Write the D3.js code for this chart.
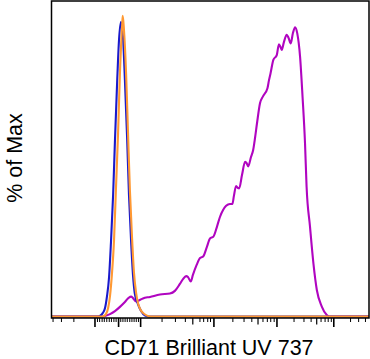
<!DOCTYPE html>
<html><head><meta charset="utf-8">
<script src="https://cdn.jsdelivr.net/npm/d3@7"></script>
<style>html,body{margin:0;padding:0;background:#fff;}svg{display:block;}</style>
</head><body>
<script>
// x in display channels (0-1024), y in % of Max
const blueX = [0,151,161,167,174,180,187,193,200,206,213,219,225,232,238,245,251,258,264,270,280,290,303,316,1024];
const blueY = [0,0,0.5,1.2,2.8,6.5,13.1,24.4,40.3,58.5,77.8,91.7,97.7,92.4,78.4,59.5,40.6,24.7,13.8,7.5,4.1,1.8,0.3,0,0];

const orangeX = [0,161,171,177,184,190,196,203,209,216,222,229,231,235,242,248,254,261,267,274,280,287,296,309,322,1024];
const orangeY = [0,0,0.2,0.8,2.8,6.8,13.8,25.4,42.0,60.9,80.8,96.4,99.7,95.0,80.1,60.9,42.0,26.0,14.8,7.8,4.5,2.5,1.2,0.3,0,0];

const magentaX = [0,158,174,190,206,222,238,251,258,264,274,283,296,319,351,383,399,415,425,435,441,450,457,469,480,490,502,512,523,535,544,555,564,576,584,589,596,602,606,615,625,630,635,644,651,657,664,673,683,697,702,707,716,727,734,739,743,750,759,765,772,779,786,793,802,810,818,823,834,845,856,872,888,898,1024];
const magentaY = [0,0,0.2,0.8,1.8,3.2,4.8,6.3,6.6,6.1,5.0,5.3,6.0,6.5,7.3,7.6,8.5,10.8,12.4,13.4,13.1,11.6,13.8,17.1,19.4,19.9,23.1,25.9,26.5,30.0,33.0,35.5,36.7,37.3,37.3,40.0,43.3,42.6,42.5,46.9,51.3,50.9,49.8,52.9,55.2,59.2,64.6,70.7,73.1,75.7,78.4,80.7,85.1,86.7,90.3,89.4,88.4,91.0,93.4,92.4,90.6,94.0,95.9,93.9,86.2,72.9,57.4,43.1,29.8,17.6,8.8,3.3,0.5,0,0];

// axis ticks (channels)
const majorTicks = [140,216,287,523,726,909];
const mediumTicks = [455,665,854];
const minorTicks = [5,32,72,
  148,155,163,170,178,186,193,201,208,
  223,230,237,244,252,259,266,273,280,
  356,399,431,478,490,503,512,
  584,620,645,681,695,706,717,
  781,813,836,868,881,891,901,
  963,989,1011];

const xLabel = "CD71 Brilliant UV 737";
const yLabel = "% of Max";

const W = 370, H = 359;
const svg = d3.select("body").append("svg").attr("width", W).attr("height", H);

const x = d3.scaleLinear().domain([0,1024]).range([51,369]);
const y = d3.scaleLinear().domain([0,100]).range([316.5,15]);

function tickAxis(vals, size, sw){
  const g = svg.append("g").attr("transform", `translate(0,${318})`)
    .call(d3.axisBottom(x).tickValues(vals).tickSize(size).tickFormat(""));
  g.select(".domain").remove();
  g.selectAll("line").attr("stroke","#000").attr("stroke-width", sw);
}
tickAxis(minorTicks, 4, 1);
tickAxis(mediumTicks, 6.5, 1.2);
tickAxis(majorTicks, 9, 1.6);

const line = d3.line().x(d=>x(d[0])).y(d=>y(d[1])).curve(d3.curveMonotoneX);
function series(xs, ys, color){
  svg.append("path").datum(xs.map((v,i)=>[v, ys[i]]))
    .attr("d", line).attr("fill","none").attr("stroke", color)
    .attr("stroke-width", 2.1).attr("stroke-linejoin","round");
}
series(magentaX, magentaY, "#b005c0");
series(blueX, blueY, "#1a1acc");
series(orangeX, orangeY, "#ff9933");

// frame
svg.append("rect").attr("x",51.5).attr("y",1).attr("width",317.5).attr("height",317)
  .attr("fill","none").attr("stroke","#000").attr("stroke-width",1.5);

svg.append("text").attr("x",209).attr("y",354.5).attr("text-anchor","middle")
  .attr("font-family","'Liberation Sans', Arial, sans-serif").attr("font-size",21.5)
  .attr("fill","#000").text(xLabel);
svg.append("text").attr("transform","translate(21.5,158) rotate(-90)").attr("text-anchor","middle")
  .attr("font-family","'Liberation Sans', Arial, sans-serif").attr("font-size",21.5)
  .attr("fill","#000").text(yLabel);
</script>
</body></html>
